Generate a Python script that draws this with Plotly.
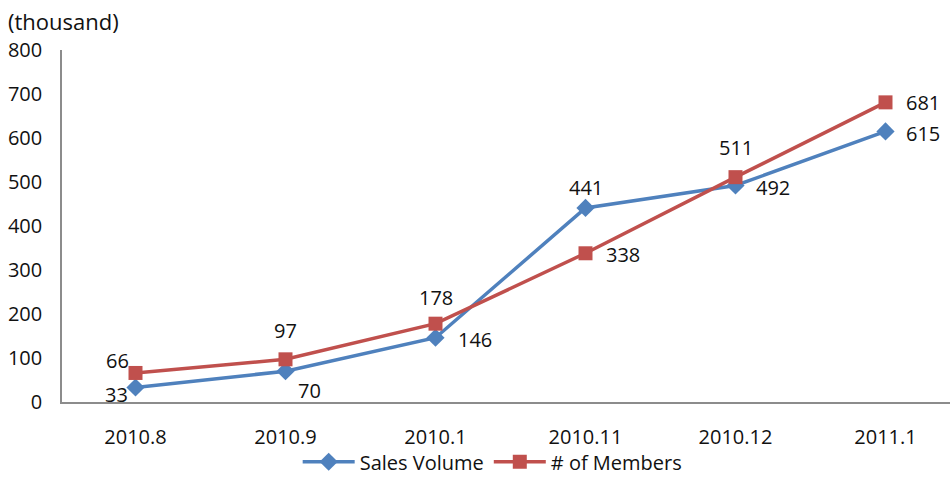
import plotly.graph_objects as go

months = ["2010.8", "2010.9", "2010.1", "2010.11", "2010.12", "2011.1"]
sales_volume = [33, 70, 146, 441, 492, 615]
members = [66, 97, 178, 338, 511, 681]
y_ticks = [0, 100, 200, 300, 400, 500, 600, 700, 800]

# label offsets (px) for each point's value label
sales_offsets = [(-19, -7), (24, -19), (39, -2), (0, 20), (37, -2), (37, -2)]
member_offsets = [(-18, 12), (0, 29), (0, 26), (37, -1), (0, 30), (37, 0)]

BLUE = "#4F81BD"
RED = "#C0504D"
FONT = "Open Sans"
FS = 20

fig = go.Figure()
fig.add_trace(go.Scatter(
    x=months, y=sales_volume, name="Sales Volume", mode="lines+markers",
    line=dict(color=BLUE, width=3.5),
    marker=dict(symbol="diamond", size=14, color=BLUE),
))
fig.add_trace(go.Scatter(
    x=months, y=members, name="# of Members", mode="lines+markers",
    line=dict(color=RED, width=3.5),
    marker=dict(symbol="square", size=14, color=RED),
))

annotations = []
for i, (v, (dx, dy)) in enumerate(zip(sales_volume, sales_offsets)):
    annotations.append(dict(x=i, y=v, xref="x", yref="y", text=str(v), showarrow=False,
                            xshift=dx, yshift=dy, font=dict(size=FS, color="#111")))
for i, (v, (dx, dy)) in enumerate(zip(members, member_offsets)):
    annotations.append(dict(x=i, y=v, xref="x", yref="y", text=str(v), showarrow=False,
                            xshift=dx, yshift=dy, font=dict(size=FS, color="#111")))
annotations.append(dict(x=0, y=1, xref="paper", yref="paper", xanchor="left", yanchor="bottom",
                        xshift=-56, yshift=12, text="(thousand)", showarrow=False,
                        font=dict(size=22, color="#111")))

fig.update_layout(
    width=950, height=477,
    margin=dict(l=62, r=0, t=50, b=75, autoexpand=False),
    paper_bgcolor="white", plot_bgcolor="white",
    font=dict(family=FONT, size=FS, color="#111"),
    showlegend=True,
    legend=dict(orientation="h", x=0.485, xanchor="center", yref="container", y=0.032,
                yanchor="middle", font=dict(size=FS), itemwidth=52, tracegroupgap=0,
                bgcolor="rgba(0,0,0,0)", borderwidth=0),
    annotations=annotations,
    xaxis=dict(
        type="category", range=[-0.49, 5.43],
        showgrid=False, zeroline=False,
        showline=True, linecolor="#8C8C8C", linewidth=1.5,
        ticks="", tickfont=dict(size=FS), ticklabelstandoff=16,
    ),
    yaxis=dict(
        range=[0, 800], tickvals=y_ticks,
        showgrid=False, zeroline=False,
        showline=True, linecolor="#8C8C8C", linewidth=1.5,
        ticks="", tickfont=dict(size=FS), ticklabelstandoff=14,
    ),
)

fig.write_html("out.html")
